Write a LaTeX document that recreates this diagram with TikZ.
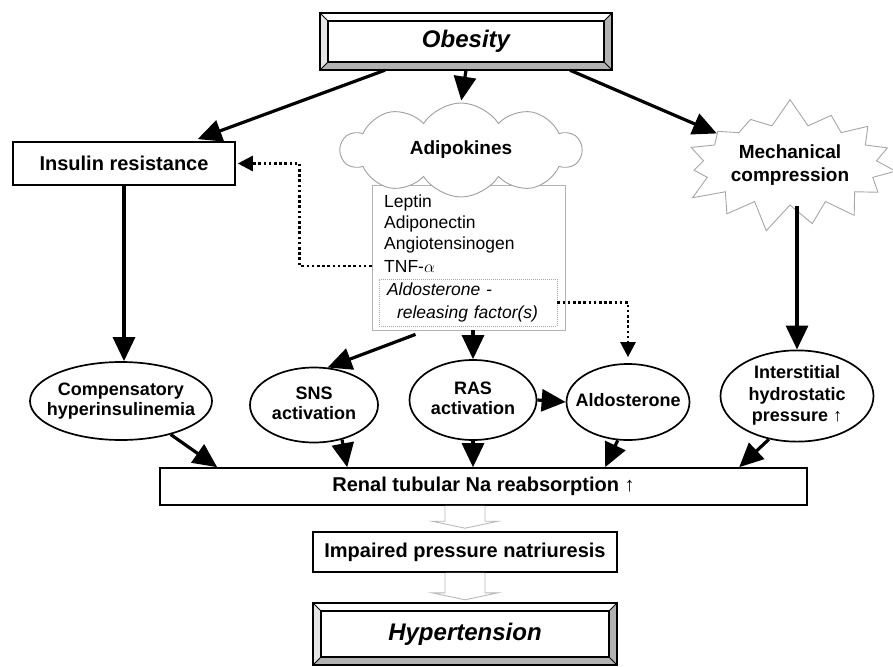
\documentclass[tikz,border=0pt]{standalone}
\usepackage{fontspec}
\setmainfont{Liberation Sans}
\usetikzlibrary{arrows.meta,shapes.geometric,shapes.symbols,calc}
\newcommand\fs[2]{\fontsize{#1}{#2}\selectfont}
\newcommand\zbox[1]{\makebox[0pt]{\begin{tabular}{@{}c@{}}#1\end{tabular}}}
\newcommand\bevelframe[1]{%
 \fill[gray!60] (#1.south west) -- (#1.south east) -- ($(#1.south east)+(-8,-8)$) -- ($(#1.south west)+(8,-8)$) -- cycle;
 \fill[gray!60] (#1.north east) -- (#1.south east) -- ($(#1.south east)+(-8,-8)$) -- ($(#1.north east)+(-8,8)$) -- cycle;
 \fill[gray!20] (#1.north west) -- (#1.south west) -- ($(#1.south west)+(8,-8)$) -- ($(#1.north west)+(8,8)$) -- cycle;
 \draw[line width=1.6pt] (#1.north west) rectangle (#1.south east);
 \draw[line width=1.6pt] ($(#1.north west)+(8,8)$) rectangle ($(#1.south east)+(-8,-8)$);
 \draw[line width=1pt] (#1.north west) -- ++(8,8) (#1.north east) -- ++(-8,8)
   (#1.south west) -- ++(8,-8) (#1.south east) -- ++(-8,-8);
}
\tikzset{
 arr/.style={line width=3.2pt, -{Triangle[length=24pt,width=22pt]}},
 darr/.style={line width=2.6pt, dash pattern=on 2.6pt off 2.6pt, -{Triangle[length=15pt,width=15pt]}},
 box/.style={draw, line width=1.6pt, fill=white, inner sep=0pt, font=\bfseries\fs{20}{22}},
 ell/.style={ellipse, draw, line width=1.7pt, fill=white, inner sep=0pt, font=\bfseries\fs{18}{20}},
 bevelbox/.style={rectangle, inner sep=0pt, fill=white, font=\bfseries\itshape\fs{24}{26}},
 listtxt/.style={anchor=west, inner sep=0pt, font=\fs{17.5}{20}},
 hollow/.style={draw=gray!55, line width=0.9pt, fill=white},
}
\begin{document}
\begin{tikzpicture}[x=1pt,y=-1pt]
\useasboundingbox (0,0) rectangle (893,666);

% top
\node[bevelbox, minimum width=292pt, minimum height=57pt] (obesity) at (466,41.5) {Obesity};
\bevelframe{obesity}

\node[box, minimum width=222pt, minimum height=43pt] (insulin) at (124,163.5) {Insulin resistance};

% adipokine list
\node[draw=gray!60, line width=0.8pt, minimum width=193pt, minimum height=145pt, inner sep=0pt] (list) at (468.5,257.5) {};
\node[listtxt] (leptin) at (384,203) {Leptin};
\node[listtxt] (adipon) at (384,224) {Adiponectin};
\node[listtxt] (angio) at (384,245) {Angiotensinogen};
\node[listtxt] (tnf) at (384,266) {TNF-$\alpha$};
\node[draw=gray!70, line width=0.7pt, dash pattern=on 1pt off 1pt, minimum width=178pt, minimum height=47pt,
      inner xsep=8pt, inner ysep=0pt, text width=162pt, align=left, font=\itshape\fs{17.5}{23}] (arf) at (468,302.5)
      {Aldosterone -\\\hspace*{10pt}releasing factor(s)};

\node[cloud, cloud puffs=10, cloud puff arc=115, aspect=2.4, draw=gray!75, line width=0.9pt, fill=white,
      inner sep=0pt, minimum width=240pt, minimum height=94pt, font=\bfseries\fs{19}{22}] (adipo) at (461,150)
      {\makebox[0pt]{Adipokines}};

\node[starburst, starburst points=15, starburst point height=28pt, random starburst=7, draw=gray!70,
      line width=0.9pt, fill=white, minimum width=230pt, minimum height=136pt, inner sep=0pt,
      font=\bfseries\fs{19}{23}] (mech) at (790,165) {\zbox{Mechanical\\compression}};

% ellipses
\node[ell, minimum width=182pt, minimum height=78pt] (comp) at (121,401) {\zbox{Compensatory\\hyperinsulinemia}};
\node[ell, minimum width=128pt, minimum height=75pt] (sns) at (314,405) {\zbox{SNS\\activation}};
\node[ell, minimum width=127pt, minimum height=80pt] (ras) at (473,400) {\zbox{RAS\\activation}};
\node[ell, minimum width=123pt, minimum height=76pt] (aldo) at (628,402) {\zbox{Aldosterone}};
\node[ell, minimum width=153pt, minimum height=82pt, font=\bfseries\fs{18}{21.5}] (inter) at (797,396)
      {\zbox{Interstitial\\hydrostatic\\pressure ↑}};

% bottom
\node[box, minimum width=647pt, minimum height=37pt] (renal) at (483.5,486.5) {Renal tubular Na reabsorption ↑};
\node[box, minimum width=304pt, minimum height=40pt] (impaired) at (465,552) {Impaired pressure natriuresis};
\node[bevelbox, minimum width=304pt, minimum height=62pt] (hyper) at (465,634) {Hypertension};
\bevelframe{hyper}

% hollow arrows
\draw[hollow] ($(impaired.north |- renal.south)+(-20,0)$) -- ($(impaired.north)+(-20,-10)$) -- ($(impaired.north)+(-33,-10)$)
  -- ($(impaired.north)+(0,-3)$) -- ($(impaired.north)+(33,-10)$) -- ($(impaired.north)+(20,-10)$) -- ($(impaired.north |- renal.south)+(20,0)$);
\draw[hollow] ($(impaired.south)+(-20,0)$) -- ($(hyper.north)+(-20,-10)$) -- ($(hyper.north)+(-33,-10)$)
  -- ($(hyper.north)+(0,-3)$) -- ($(hyper.north)+(33,-10)$) -- ($(hyper.north)+(20,-10)$) -- ($(impaired.south)+(20,0)$);

% arrows
\draw[arr, shorten >=6pt] ($(obesity.south)+(-81,0)$) -- ($(insulin.north)+(68,0)$);
\draw[arr, shorten >=2pt] (obesity.south) -- (adipo.north);
\draw[arr] ($(obesity.south)+(104,0)$) -- (mech);
\draw[arr] (insulin.south) -- (insulin.south |- comp.north);
\draw[arr] (inter.north |- mech.south) -- (inter.north);
\draw[arr] ($(list.south)+(-53,4)$) -- (sns.70);
\draw[arr] (ras.north |- list.south) -- (ras.north);
\draw[arr] (ras.east) -- (aldo.west);
\draw[darr, shorten >=6pt] (arf.east) -| (aldo.north);
\draw[darr, shorten >=2pt] (list.west |- tnf) -- ++(-72,0) |- (insulin.east);

\draw[arr] (comp.-34) -- ($(renal.north west)+(58,0)$);
\draw[arr] (sns.-51) -- ($(renal.north west)+(188,0)$);
\draw[arr] (ras.south) -- (ras.south |- renal.north);
\draw[arr] (aldo.-105) -- ($(renal.north west)+(446,0)$);
\draw[arr] (inter.-123) -- ($(renal.north west)+(580,0)$);
\end{tikzpicture}
\end{document}
